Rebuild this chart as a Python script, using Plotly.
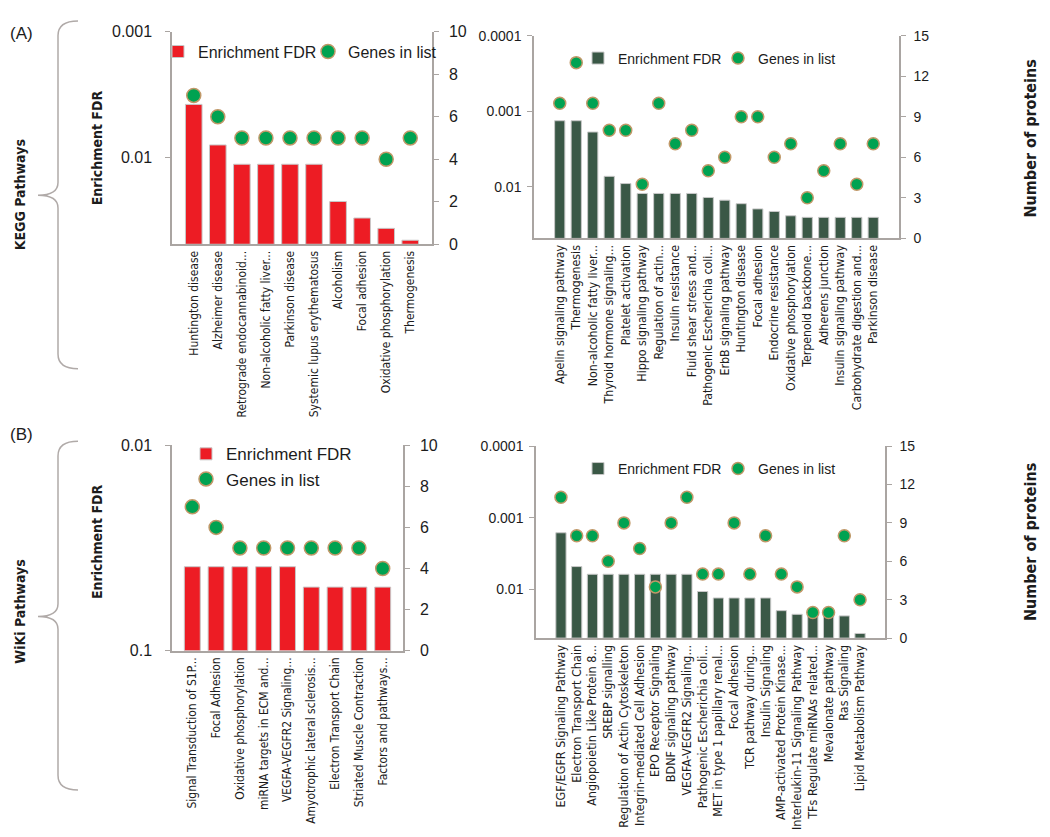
import plotly.graph_objects as go

W, H = 1050, 837

# ---------------- DATA ----------------
kegg_top_terms = ["Huntington disease", "Alzheimer disease", "Retrograde endocannabinoid...",
                  "Non-alcoholic fatty liver...", "Parkinson disease", "Systemic lupus erythematosus",
                  "Alcoholism", "Focal adhesion", "Oxidative phosphorylation", "Thermogenesis"]
kegg_top_fdr = [0.0038, 0.0080, 0.0114, 0.0114, 0.0114, 0.0114, 0.0226, 0.0306, 0.037, 0.046]
kegg_top_genes = [7, 6, 5, 5, 5, 5, 5, 5, 4, 5]

kegg_all_terms = ["Apelin signaling pathway", "Thermogenesis", "Non-alcoholic fatty liver...",
                  "Thyroid hormone signaling...", "Platelet activation", "Hippo signaling pathway",
                  "Regulation of actin...", "Insulin resistance", "Fluid shear stress and...",
                  "Pathogenic Escherichia coli...", "ErbB signaling pathway", "Huntington disease",
                  "Focal adhesion", "Endocrine resistance", "Oxidative phosphorylation",
                  "Terpenoid backbone...", "Adherens junction", "Insulin signaling pathway",
                  "Carbohydrate digestion and...", "Parkinson disease"]
kegg_all_fdr = [0.00134, 0.00134, 0.00189, 0.0073, 0.0091, 0.0123, 0.0123, 0.0123, 0.0123,
                0.0139, 0.0151, 0.0168, 0.0197, 0.0213, 0.0243, 0.0255, 0.0255, 0.0255,
                0.0255, 0.0255]
kegg_all_genes = [10, 13, 10, 8, 8, 4, 10, 7, 8, 5, 6, 9, 9, 6, 7, 3, 5, 7, 4, 7]

wiki_top_terms = ["Signal Transduction of S1P...", "Focal Adhesion", "Oxidative phosphorylation",
                  "miRNA targets in ECM and...", "VEGFA-VEGFR2 Signaling...",
                  "Amyotrophic lateral sclerosis...", "Electron Transport Chain",
                  "Striated Muscle Contraction", "Factors and pathways..."]
wiki_top_fdr = [0.039, 0.039, 0.039, 0.039, 0.039, 0.049, 0.049, 0.049, 0.049]
wiki_top_genes = [7, 6, 5, 5, 5, 5, 5, 5, 4]

wiki_all_terms = ["EGF/EGFR Signaling Pathway", "Electron Transport Chain",
                  "Angiopoietin Like Protein 8...", "SREBP signalling",
                  "Regulation of Actin Cytoskeleton", "Integrin-mediated Cell Adhesion",
                  "EPO Receptor Signaling", "BDNF signaling pathway", "VEGFA-VEGFR2 Signaling...",
                  "Pathogenic Escherichia coli...", "MET in type 1 papillary renal...",
                  "Focal Adhesion", "TCR pathway during...", "Insulin Signaling",
                  "AMP-activated Protein Kinase...", "Interleukin-11 Signaling Pathway",
                  "TFs Regulate miRNAs related...", "Mevalonate pathway", "Ras Signaling",
                  "Lipid Metabolism Pathway"]
wiki_all_fdr = [0.00163, 0.00484, 0.0062, 0.0062, 0.0062, 0.0062, 0.0062, 0.0062, 0.0062,
                0.0108, 0.0133, 0.0133, 0.0133, 0.0133, 0.020, 0.0225, 0.0232, 0.0232,
                0.0237, 0.0417]
wiki_all_genes = [11, 8, 8, 6, 9, 7, 4, 9, 11, 5, 5, 9, 5, 8, 5, 4, 2, 2, 8, 3]

# ---------------- STYLE ----------------
RED = "#ed1c24"
DKGREEN = "#3a5846"
DOT = "#00a251"
DOTLINE = "#c09868"
AXIS = "#aaa5a2"
TXT = "#1c1c1c"
FONT = "Liberation Sans, Arial, sans-serif"
NARROW = "DejaVu Sans Condensed, Liberation Sans, sans-serif"


def dx(x0, x1):
    return [x0 / W, x1 / W]


def dy(y_top, y_bot):
    return [1 - y_bot / H, 1 - y_top / H]


panels = [
    dict(terms=kegg_top_terms, fdr=kegg_top_fdr, genes=kegg_top_genes, color=RED,
         xd=dx(164, 424), yd=dy(16, 233), lr=[-1.305, -3], fticks=[0.001, 0.01],
         rmax=10, rdt=2, tickfont=16, width=0.69, msize=14, lstand=10, rstand=7, xfont=12),
    dict(terms=kegg_all_terms, fdr=kegg_all_fdr, genes=kegg_all_genes, color=DKGREEN,
         xd=dx(526, 891), yd=dy(20, 227), lr=[-1.315, -4], fticks=[0.0001, 0.001, 0.01],
         rmax=15, rdt=3, tickfont=14, width=0.62, msize=12, lstand=3, rstand=5, xfont=12.3),
    dict(terms=wiki_top_terms, fdr=wiki_top_fdr, genes=wiki_top_genes, color=RED,
         xd=dx(164, 395), yd=dy(438, 648), lr=[-1, -2], fticks=[0.01, 0.1],
         rmax=10, rdt=2, tickfont=16, width=0.67, msize=14, lstand=10, rstand=7, xfont=12),
    dict(terms=wiki_all_terms, fdr=wiki_all_fdr, genes=wiki_all_genes, color=DKGREEN,
         xd=dx(528, 877), yd=dy(439, 635), lr=[-1.315, -4], fticks=[0.0001, 0.001, 0.01],
         rmax=15, rdt=3, tickfont=14, width=0.65, msize=12, lstand=3, rstand=5, xfont=12.5),
]

TICKTEXT = {0.0001: "0.0001", 0.001: "0.001", 0.01: "0.01", 0.1: "0.1"}

legend_specs = [
    dict(x=150, y=19, orientation="h", size=16, ew=105),
    dict(x=570, y=27, orientation="h", size=14, ew=95),
    dict(x=178, y=429, orientation="v", size=17, ew=0),
    dict(x=570, y=446, orientation="h", size=14, ew=95),
]

fig = go.Figure()
layout = dict(width=W, height=H, margin=dict(l=0, r=0, t=0, b=0),
              paper_bgcolor="white", plot_bgcolor="rgba(0,0,0,0)",
              font=dict(family=FONT, color=TXT), showlegend=True)

for i, p in enumerate(panels):
    xa = "x" if i == 0 else f"x{i+1}"
    ya_l = "y" if i == 0 else f"y{2*i+1}"
    ya_r = f"y{2*i+2}"
    lg = "legend" if i == 0 else f"legend{i+1}"
    base = 10 ** p["lr"][0]
    fig.add_trace(go.Bar(
        x=p["terms"], y=[v - base for v in p["fdr"]], base=base,
        xaxis=xa, yaxis=ya_l, name="Enrichment FDR", legend=lg,
        marker=dict(color=p["color"], line=dict(color="#c8c8c8", width=1)),
        width=p["width"],
        customdata=p["fdr"], hovertemplate="%{x}<br>FDR=%{customdata}<extra></extra>"))
    fig.add_trace(go.Scatter(
        x=p["terms"], y=p["genes"], mode="markers",
        xaxis=xa, yaxis=ya_r, name="Genes in list", legend=lg,
        marker=dict(color=DOT, size=p["msize"], line=dict(color=DOTLINE, width=1.5))))

    xkey = "xaxis" if i == 0 else f"xaxis{i+1}"
    ylkey = "yaxis" if i == 0 else f"yaxis{2*i+1}"
    yrkey = f"yaxis{2*i+2}"
    layout[xkey] = dict(domain=p["xd"], anchor=ya_l, type="category",
                        tickmode="array", tickvals=p["terms"], ticktext=p["terms"],
                        showline=True, linecolor=AXIS, linewidth=1.5, ticks="",
                        tickangle=-90, tickfont=dict(size=p["xfont"], color=TXT, family=NARROW),
                        showgrid=False, zeroline=False, fixedrange=True)
    layout[ylkey] = dict(domain=p["yd"], anchor=xa, type="log", range=p["lr"],
                         tickvals=p["fticks"], ticktext=[TICKTEXT[t] for t in p["fticks"]],
                         showline=True, linecolor=AXIS, linewidth=1.5,
                         ticks="outside", ticklen=5, tickcolor=AXIS,
                         ticklabelstandoff=p["lstand"],
                         tickfont=dict(size=p["tickfont"], color=TXT),
                         showgrid=False, zeroline=False)
    layout[yrkey] = dict(overlaying=ya_l, anchor=xa, side="right",
                         range=[0, p["rmax"]], dtick=p["rdt"], tick0=0,
                         showline=True, linecolor=AXIS, linewidth=1.5,
                         ticks="outside", ticklen=5, tickcolor=AXIS,
                         ticklabelstandoff=p["rstand"],
                         tickfont=dict(size=p["tickfont"], color=TXT),
                         showgrid=False, zeroline=False)
    ls = legend_specs[i]
    leg = dict(x=ls["x"] / W, y=1 - ls["y"] / H, xanchor="left", yanchor="top",
               orientation=ls["orientation"], font=dict(size=ls["size"], color=TXT),
               bgcolor="rgba(0,0,0,0)", itemwidth=30, tracegroupgap=0)
    if ls["ew"]:
        leg["entrywidth"] = ls["ew"]
        leg["entrywidthmode"] = "pixels"
    layout[lg] = leg

fig.update_layout(**layout)


def P(x, y):
    return f"{x / W:.5f},{1 - y / H:.5f}"


def brace(y0, ym, y1):
    return (f"M{P(70, y0)} Q{P(50, y0)} {P(50, y0 + 15)} L{P(50, ym - 13)} "
            f"Q{P(50, ym)} {P(30, ym)} Q{P(50, ym)} {P(50, ym + 13)} "
            f"L{P(50, y1 - 15)} Q{P(50, y1)} {P(70, y1)}")


for (y0, ym, y1) in [(5, 183, 360), (434, 613, 790)]:
    fig.add_shape(type="path", path=brace(y0, ym, y1), xref="paper", yref="paper",
                  line=dict(color="#b0aaa8", width=1.5))

ann = [
    dict(text="(A)", x=0, y=18, size=17, bold=False, angle=0, xanchor="left", fam=FONT),
    dict(text="(B)", x=0, y=427, size=17, bold=False, angle=0, xanchor="left", fam=FONT),
    dict(text="KEGG Pathways", x=12, y=183, size=14, bold=True, angle=-90, xanchor="center", fam=NARROW),
    dict(text="WiKi Pathways", x=12, y=608, size=14, bold=True, angle=-90, xanchor="center", fam=NARROW),
    dict(text="Enrichment FDR", x=89, y=135, size=14, bold=True, angle=-90, xanchor="center", fam=NARROW),
    dict(text="Enrichment FDR", x=89, y=537, size=14, bold=True, angle=-90, xanchor="center", fam=NARROW),
    dict(text="Number of proteins", x=1022, y=125, size=16, bold=True, angle=-90, xanchor="center", fam=NARROW),
    dict(text="Number of proteins", x=1022, y=537, size=16, bold=True, angle=-90, xanchor="center", fam=NARROW),
]
for a in ann:
    fig.add_annotation(text=f"<b>{a['text']}</b>" if a["bold"] else a["text"],
                       x=a["x"] / W, y=1 - a["y"] / H, xref="paper", yref="paper",
                       xanchor=a["xanchor"], yanchor="middle", textangle=a["angle"],
                       showarrow=False, font=dict(size=a["size"], color=TXT, family=a["fam"]))

fig.write_html("out.html")
